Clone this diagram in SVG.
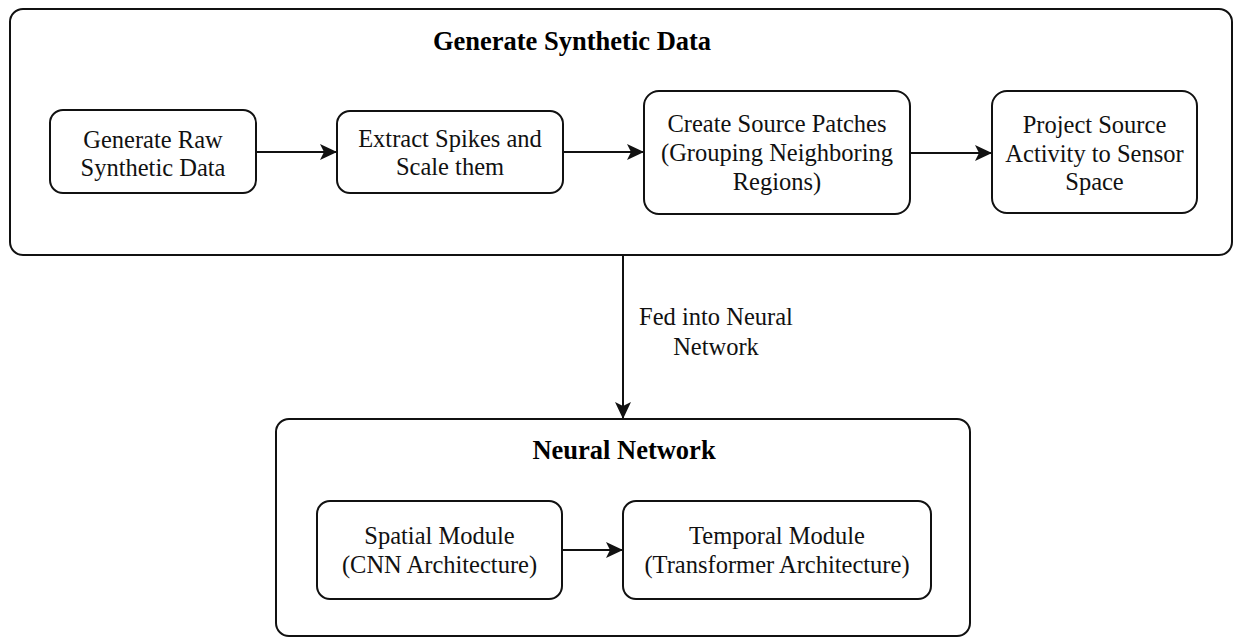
<svg xmlns="http://www.w3.org/2000/svg" width="1236" height="638" viewBox="0 0 1236 638">
  <style>
    .box { fill: #ffffff; stroke: #111111; stroke-width: 2; }
    .lbl { font-family: "Liberation Serif", "Times New Roman", serif; font-size: 24.5px; fill: #111111; text-anchor: middle; }
    .ttl { font-family: "Liberation Serif", "Times New Roman", serif; font-size: 26.5px; font-weight: bold; fill: #000000; text-anchor: middle; }
    .edge { fill: none; stroke: #111111; stroke-width: 2; }
  </style>
  <defs>
    <marker id="arrow" markerUnits="userSpaceOnUse" markerWidth="18" markerHeight="18" viewBox="0 0 18 18" refX="17" refY="9" orient="auto">
      <path d="M0,1 L17,9 L0,17 L4,9 Z" fill="#111111"/>
    </marker>
  </defs>
  <rect width="1236" height="638" fill="#ffffff"/>

  <!-- Container: synthetic data pipeline -->
  <g id="synthetic-data">
    <rect class="box" x="10" y="9" width="1222" height="246" rx="13"/>
    <text class="ttl" x="572" y="50">Generate Synthetic Data</text>
  </g>

  <g id="raw-data">
    <rect class="box" x="50" y="110" width="206" height="83" rx="13"/>
    <text class="lbl" x="153" y="148">Generate Raw</text>
    <text class="lbl" x="153" y="176">Synthetic Data</text>
  </g>

  <g id="extract-spikes">
    <rect class="box" x="337" y="111" width="226" height="82" rx="13"/>
    <text class="lbl" x="450" y="147">Extract Spikes and</text>
    <text class="lbl" x="450" y="175">Scale them</text>
  </g>

  <g id="source-patches">
    <rect class="box" x="644" y="91" width="266" height="123" rx="15"/>
    <text class="lbl" x="777" y="132">Create Source Patches</text>
    <text class="lbl" x="777" y="161">(Grouping Neighboring</text>
    <text class="lbl" x="777" y="190">Regions)</text>
  </g>

  <g id="project-sensor">
    <rect class="box" x="992" y="91" width="205" height="122" rx="15"/>
    <text class="lbl" x="1094.5" y="133">Project Source</text>
    <text class="lbl" x="1094.5" y="162">Activity to Sensor</text>
    <text class="lbl" x="1094.5" y="190">Space</text>
  </g>

  <!-- Container: neural network -->
  <g id="neural-network">
    <rect class="box" x="276" y="419" width="694" height="217" rx="13"/>
    <text class="ttl" x="624" y="459">Neural Network</text>
  </g>

  <g id="spatial-module">
    <rect class="box" x="317" y="501" width="245" height="98" rx="13"/>
    <text class="lbl" x="439.5" y="544">Spatial Module</text>
    <text class="lbl" x="439.5" y="573">(CNN Architecture)</text>
  </g>

  <g id="temporal-module">
    <rect class="box" x="623" y="501" width="308" height="98" rx="13"/>
    <text class="lbl" x="777" y="544">Temporal Module</text>
    <text class="lbl" x="777" y="573">(Transformer Architecture)</text>
  </g>

  <!-- Connectors -->
  <g id="connectors">
    <path class="edge" d="M256,152 L337,152" marker-end="url(#arrow)"/>
    <path class="edge" d="M563,152 L644,152" marker-end="url(#arrow)"/>
    <path class="edge" d="M910,153 L992,153" marker-end="url(#arrow)"/>
    <path class="edge" d="M623,255 L623,419" marker-end="url(#arrow)"/>
    <path class="edge" d="M562,550 L623,550" marker-end="url(#arrow)"/>
    <text class="lbl" x="716" y="325">Fed into Neural</text>
    <text class="lbl" x="716" y="355">Network</text>
  </g>
</svg>
